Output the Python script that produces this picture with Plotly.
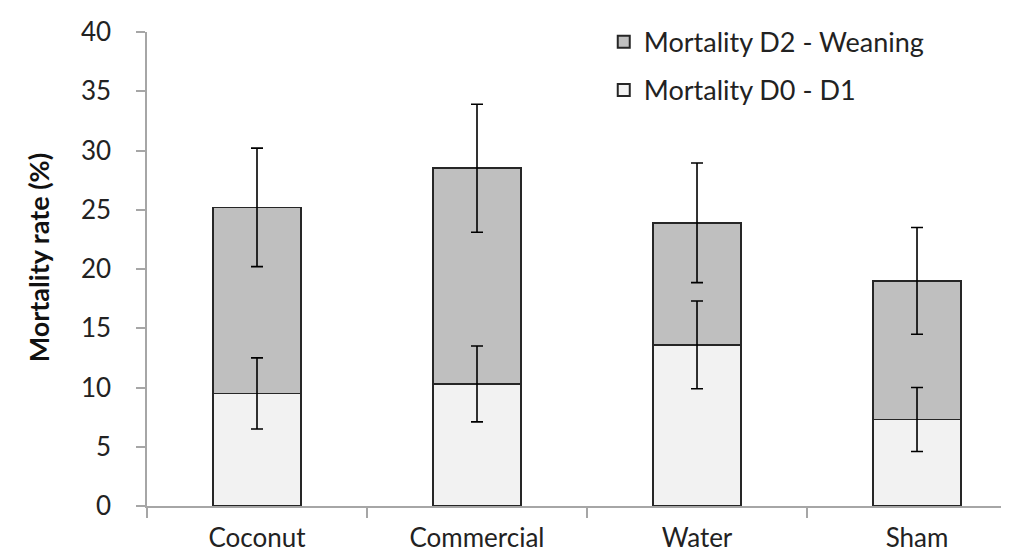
import plotly.graph_objects as go

categories = ["Coconut", "Commercial", "Water", "Sham"]
d0_d1 = [9.5, 10.3, 13.6, 7.3]
d0_d1_err = [3.0, 3.2, 3.7, 2.7]
d2_weaning = [15.7, 18.2, 10.3, 11.7]
total_err = [5.0, 5.4, 5.05, 4.5]
y_ticks = [0, 5, 10, 15, 20, 25, 30, 35, 40]

totals = [a + b for a, b in zip(d0_d1, d2_weaning)]

FONT = "Lato, 'Open Sans', sans-serif"
edge = dict(color="#262626", width=1.6)
err_style = dict(type="data", visible=True, color="#000000", thickness=1.6, width=6)

fig = go.Figure()
fig.add_trace(go.Bar(
    x=categories, y=d0_d1, name="Mortality D0 - D1",
    marker=dict(color="#f2f2f2", line=edge),
    legendgroup="d0", legendrank=2,
))
fig.add_trace(go.Bar(
    x=categories, y=d2_weaning, name="Mortality D2 - Weaning",
    marker=dict(color="#bfbfbf", line=edge),
    legendgroup="d2", legendrank=1,
))
# error bars drawn above the bars
fig.add_trace(go.Scatter(
    x=categories, y=d0_d1, mode="markers", marker=dict(opacity=0, size=1),
    error_y=dict(array=d0_d1_err, **err_style), showlegend=False, hoverinfo="skip",
))
fig.add_trace(go.Scatter(
    x=categories, y=totals, mode="markers", marker=dict(opacity=0, size=1),
    error_y=dict(array=total_err, **err_style), showlegend=False, hoverinfo="skip",
))

fig.update_layout(
    width=1009, height=555,
    barmode="stack", bargap=0.6,
    plot_bgcolor="white", paper_bgcolor="white",
    margin=dict(l=139, r=0, t=24, b=57),
    font=dict(family=FONT, size=26, color="#222222"),
    showlegend=True,
    legend=dict(
        x=0.525, y=1.03, xanchor="left", yanchor="top",
        traceorder="grouped", tracegroupgap=10,
        font=dict(size=27, color="#222222"),
        bgcolor="rgba(0,0,0,0)",
        itemsizing="constant",
    ),
    xaxis=dict(
        range=[-0.5, 3.4545],
        showline=True, linecolor="#a6a6a6", linewidth=1.5,
        ticks="outside", tickson="boundaries", ticklen=10, tickcolor="#a6a6a6",
        tickwidth=1.5,
        tickfont=dict(size=26, color="#222222"),
        ticklabelstandoff=8,
        showgrid=False, zeroline=False,
    ),
    yaxis=dict(
        range=[0, 40], tickvals=y_ticks,
        showline=True, linecolor="#a6a6a6", linewidth=1.5,
        ticks="outside", ticklen=9, tickcolor="#a6a6a6", tickwidth=1.5,
        tickfont=dict(size=26, color="#222222"),
        ticklabelstandoff=20,
        showgrid=False, zeroline=False,
    ),
    annotations=[dict(
        text="<b>Mortality rate (%)</b>", textangle=-90,
        xref="paper", yref="paper", x=-0.125, y=0.523,
        xanchor="center", yanchor="middle", showarrow=False,
        font=dict(size=27, color="#111111"),
    )],
)

fig.write_html("out.html")
